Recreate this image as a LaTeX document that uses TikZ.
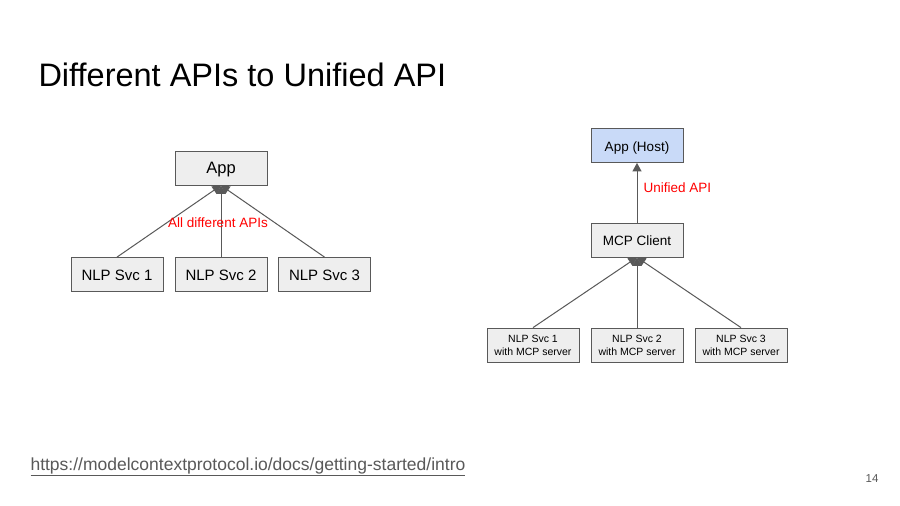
\documentclass[tikz,border=0pt]{standalone}
\usepackage{fontspec}
\setmainfont{Liberation Sans}
\usetikzlibrary{arrows.meta}
\definecolor{boxfill}{HTML}{EEEEEE}
\definecolor{boxline}{HTML}{595959}
\definecolor{hostfill}{HTML}{C9DAF8}
\definecolor{linkgray}{HTML}{595959}
\begin{document}
\begin{tikzpicture}[x=1pt,y=-1pt,
  box/.style={draw=boxline,fill=boxfill,line width=0.8pt,minimum width=92pt,minimum height=34pt,inner sep=1pt,align=center},
  onel/.style={text height=0.72em+4pt,text depth=0pt},
  conn/.style={draw=boxline,line width=1pt,-{Triangle[length=8.5pt,width=9pt,fill=boxline]}},
  redlbl/.style={text=red,font=\fontsize{13.5}{15}\selectfont}]
\useasboundingbox (0,0) rectangle (900,506);
\fill[white] (0,0) rectangle (900,506);
\node[anchor=west,font=\fontsize{32.5}{38}\selectfont] (title) at (35,75) {Different APIs to Unified API};
% left
\node[box,onel,font=\fontsize{16.5}{19}\selectfont] (app) at (221,168) {App};
\node[box,onel,font=\fontsize{15}{18}\selectfont] (s1) at (117,274.5) {NLP Svc 1};
\node[box,onel,font=\fontsize{15}{18}\selectfont] (s2) at (221,274.5) {NLP Svc 2};
\node[box,onel,font=\fontsize{15}{18}\selectfont] (s3) at (324.5,274.5) {NLP Svc 3};
\draw[conn] (s1.north) -- (app.south);
\draw[conn] (s2.north) -- (app.south);
\draw[conn] (s3.north) -- (app.south);
\node[redlbl] (lbl1) at (218,223) {All different APIs};
% right
\node[box,onel,fill=hostfill,font=\fontsize{13.5}{16}\selectfont] (host) at (637,145.5) {App (Host)};
\node[box,onel,font=\fontsize{13.5}{16}\selectfont] (client) at (637,240) {MCP Client};
\draw[conn] (client.north) -- (host.south);
\node[redlbl,anchor=west] (lbl2) at (640,188) {Unified API};
\node[box,font=\fontsize{10.5}{13}\selectfont] (m1) at (533,345) {NLP Svc 1\\with MCP server};
\node[box,font=\fontsize{10.5}{13}\selectfont] (m2) at (637,345) {NLP Svc 2\\with MCP server};
\node[box,font=\fontsize{10.5}{13}\selectfont] (m3) at (741,345) {NLP Svc 3\\with MCP server};
\draw[conn] (m1.north) -- (client.south);
\draw[conn] (m2.north) -- (client.south);
\draw[conn] (m3.north) -- (client.south);
% footer
\node[anchor=west,text=linkgray,font=\fontsize{17.5}{20}\selectfont] (url) at (27,467) {\underline{https://modelcontextprotocol.io/docs/getting-started/intro}};
\node[text=linkgray,font=\fontsize{11.5}{13}\selectfont] (pg) at (872,479) {14};
\end{tikzpicture}
\end{document}
